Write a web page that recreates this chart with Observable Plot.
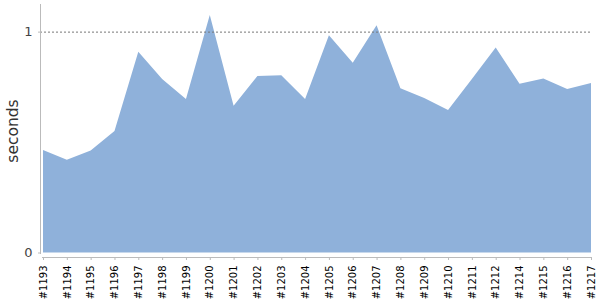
<!DOCTYPE html>
<html>
<head>
<meta charset="utf-8">
<script src="https://cdn.jsdelivr.net/npm/d3@7"></script>
<script src="https://cdn.jsdelivr.net/npm/@observablehq/plot@0.6"></script>
<style>
  html, body { margin: 0; padding: 0; background: #fff; }
</style>
</head>
<body>
<div id="chart"></div>
<script>
const builds = ["#1193","#1194","#1195","#1196","#1197","#1198","#1199","#1200","#1201","#1202","#1203","#1204","#1205","#1206","#1207","#1208","#1209","#1210","#1211","#1212","#1214","#1215","#1216","#1217"];
const seconds = [0.464,0.420,0.462,0.550,0.909,0.785,0.695,1.075,0.664,0.799,0.803,0.695,0.984,0.859,1.029,0.744,0.700,0.645,0.785,0.928,0.764,0.788,0.740,0.767];
const yTicks = [0, 1];
const yLabel = "seconds";

const data = builds.map((b, i) => ({build: b, sec: seconds[i]}));

const chart = Plot.plot({
  width: 600,
  height: 300,
  marginLeft: 40,
  marginRight: 9,
  marginTop: 4,
  marginBottom: 43,
  style: {fontFamily: "DejaVu Sans", background: "#fff"},
  x: {type: "point", domain: builds, range: [43, 591], padding: 0, round: false, axis: null},
  y: {domain: [0, 1.125], range: [252.5, 4], axis: null},
  marks: [
    Plot.areaY(data, {x: "build", y: "sec", fill: "#8fb1da"}),
    Plot.ruleY([1], {stroke: "#777", strokeDasharray: "2,2", strokeWidth: 1}),
    Plot.frame({anchor: "left", stroke: "#bbb", insetBottom: 4}),
    Plot.frame({anchor: "bottom", stroke: "#bbb", insetLeft: 2}),
    Plot.axisX({anchor: "bottom", tickRotate: -90, tickSize: 3, tickPadding: 5, fontSize: 10, fill: "#000", stroke: "#bbb", label: null}),
    Plot.axisY({anchor: "left", ticks: yTicks, tickSize: 2, tickPadding: 6, fontSize: 13, fill: "#444", stroke: "#bbb", label: null, tickFormat: d => String(d)}),
    Plot.text([yLabel], {frameAnchor: "left", text: d => d, rotate: -90, dx: -27, fontSize: 15.5, fill: "#333", textAnchor: "middle"})
  ]
});
document.getElementById("chart").appendChild(chart);
</script>
</body>
</html>
